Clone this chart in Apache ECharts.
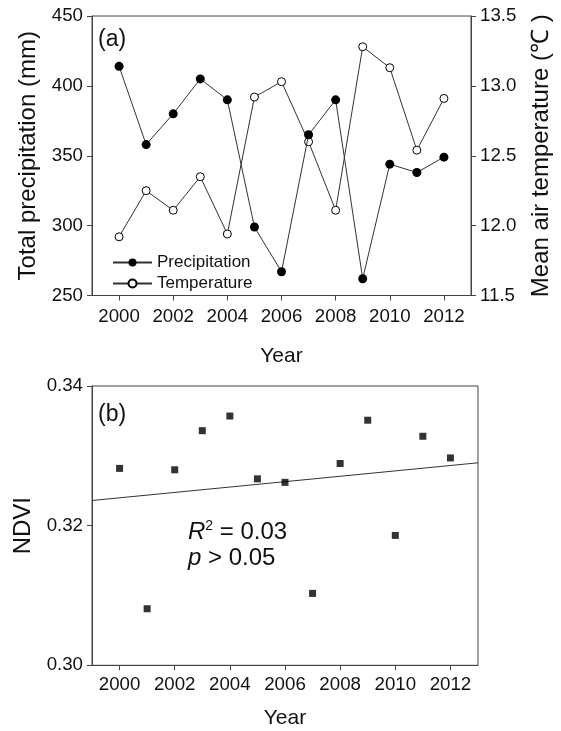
<!DOCTYPE html>
<html>
<head>
<meta charset="utf-8">
<script src="https://cdn.jsdelivr.net/npm/echarts@6/dist/echarts.min.js"></script>
<style>
  html, body { margin: 0; padding: 0; background: #fff; }
  #chart { width: 561px; height: 731px; }
</style>
</head>
<body>
<div id="chart"></div>
<script>
// values
const years = [2000, 2001, 2002, 2003, 2004, 2005, 2006, 2007, 2008, 2009, 2010, 2011, 2012];
const precipitation = [414, 358, 380, 405, 390, 299, 267, 365, 390, 262, 344, 338, 349];
const temperature = [11.92, 12.25, 12.11, 12.35, 11.94, 12.92, 13.03, 12.6, 12.11, 13.28, 13.13, 12.54, 12.91];
const ndvi = [0.3282, 0.3081, 0.3280, 0.3336, 0.3357, 0.3267, 0.3262, 0.3103, 0.3289, 0.3351, 0.3186, 0.3328, 0.3297];
const trendYears = [1999, 2013];
const trendNdvi = [0.3236, 0.3290];
const yearTicks = [2000, 2002, 2004, 2006, 2008, 2010, 2012];

const FONT = 'Liberation Sans, Arial, sans-serif';
const AXIS = '#444';
const LINE = '#333';

const pair = (xs, ys) => xs.map((x, i) => [x, ys[i]]);

const chart = echarts.init(document.getElementById('chart'));

const xAxisBase = {
    type: 'value',
    min: 1999,
    max: 2013,
    axisLine: { show: true, lineStyle: { color: AXIS } },
    axisTick: { show: true, customValues: yearTicks, length: 5, lineStyle: { color: AXIS } },
    axisLabel: { customValues: yearTicks, fontSize: 18.7, color: '#111', fontFamily: FONT, formatter: v => String(v) },
    splitLine: { show: false },
    name: 'Year',
    nameLocation: 'middle',
    nameTextStyle: { fontSize: 21, color: '#111', fontFamily: FONT },
};

const yAxisBase = {
    type: 'value',
    axisLine: { show: true, lineStyle: { color: AXIS } },
    axisTick: { show: true, length: 5, lineStyle: { color: AXIS } },
    splitLine: { show: false },
    nameLocation: 'middle',
    nameRotate: 90,
    nameTextStyle: { fontSize: 24, color: '#111', fontFamily: FONT },
};

chart.setOption({
    animation: false,
    backgroundColor: '#fff',
    grid: [
        { left: 92, right: 83, top: 16, height: 279.5, show: true, borderColor: AXIS, borderWidth: 1 },
        { left: 92, right: 83, top: 386, height: 279.3, show: true, borderColor: AXIS, borderWidth: 1 },
    ],
    legend: {
        data: ['Precipitation', 'Temperature'],
        orient: 'vertical',
        left: 107,
        top: 249,
        itemWidth: 39,
        itemHeight: 10,
        itemGap: 4,
        textStyle: { fontSize: 17, color: '#111', fontFamily: FONT },
    },
    xAxis: [
        { ...xAxisBase, gridIndex: 0, nameGap: 50, axisLabel: { ...xAxisBase.axisLabel, margin: 12 } },
        { ...xAxisBase, gridIndex: 1, nameGap: 42, axisLabel: { ...xAxisBase.axisLabel, margin: 10 } },
    ],
    yAxis: [
        {
            ...yAxisBase, gridIndex: 0, min: 250, max: 450, interval: 50,
            name: 'Total precipitation (mm)', nameGap: 52,
            axisLabel: { margin: 9, fontSize: 18.7, color: '#111', fontFamily: FONT },
        },
        {
            ...yAxisBase, gridIndex: 0, position: 'right', min: 11.5, max: 13.5, interval: 0.5,
            name: 'Mean air temperature (℃ )', nameGap: 58, nameRotate: 90,
            axisLabel: { margin: 9, fontSize: 18.7, color: '#111', fontFamily: FONT, formatter: v => v.toFixed(1) },
        },
        {
            ...yAxisBase, gridIndex: 1, min: 0.30, max: 0.34, interval: 0.02,
            name: 'NDVI', nameGap: 56,
            axisLabel: { margin: 9, fontSize: 18.7, color: '#111', fontFamily: FONT, formatter: v => v.toFixed(2) },
        },
    ],
    graphic: [
        { type: 'text', left: 98, top: 28, style: { text: '(a)', fontSize: 23, fill: '#111', fontFamily: FONT } },
        { type: 'text', left: 98, top: 403, style: { text: '(b)', fontSize: 23, fill: '#111', fontFamily: FONT } },
        {
            type: 'text', left: 188, top: 519,
            style: {
                text: '{i|R}{s|2}{n| = 0.03}\n{i|p}{n| > 0.05}',
                fill: '#111',
                fontFamily: FONT,
                fontSize: 24,
                lineHeight: 26,
                rich: {
                    i: { fontSize: 24, fontStyle: 'italic', fontFamily: FONT, lineHeight: 26 },
                    s: { fontSize: 14, fontFamily: FONT, verticalAlign: 'top', lineHeight: 26, padding: [0, 0, 10, 0] },
                    n: { fontSize: 24, fontFamily: FONT, lineHeight: 26 },
                },
            },
        },
    ],
    series: [
        {
            name: 'Precipitation',
            type: 'line',
            xAxisIndex: 0,
            yAxisIndex: 0,
            data: pair(years, precipitation),
            symbol: 'circle',
            symbolSize: 9,
            itemStyle: { color: '#000' },
            lineStyle: { color: LINE, width: 1 },
            z: 3,
        },
        {
            name: 'Temperature',
            type: 'line',
            xAxisIndex: 0,
            yAxisIndex: 1,
            data: pair(years, temperature),
            symbol: 'circle',
            symbolSize: 8,
            itemStyle: { color: '#fff', borderColor: '#000', borderWidth: 1 },
            lineStyle: { color: LINE, width: 1 },
            z: 2,
        },
        {
            name: 'NDVI',
            type: 'scatter',
            xAxisIndex: 1,
            yAxisIndex: 2,
            data: pair(years, ndvi),
            symbol: 'rect',
            symbolSize: 7,
            itemStyle: { color: '#000' },
            z: 3,
        },
        {
            name: 'Trend',
            type: 'line',
            xAxisIndex: 1,
            yAxisIndex: 2,
            data: pair(trendYears, trendNdvi),
            symbol: 'none',
            lineStyle: { color: LINE, width: 1 },
            z: 2,
        },
    ],
});
</script>
</body>
</html>
